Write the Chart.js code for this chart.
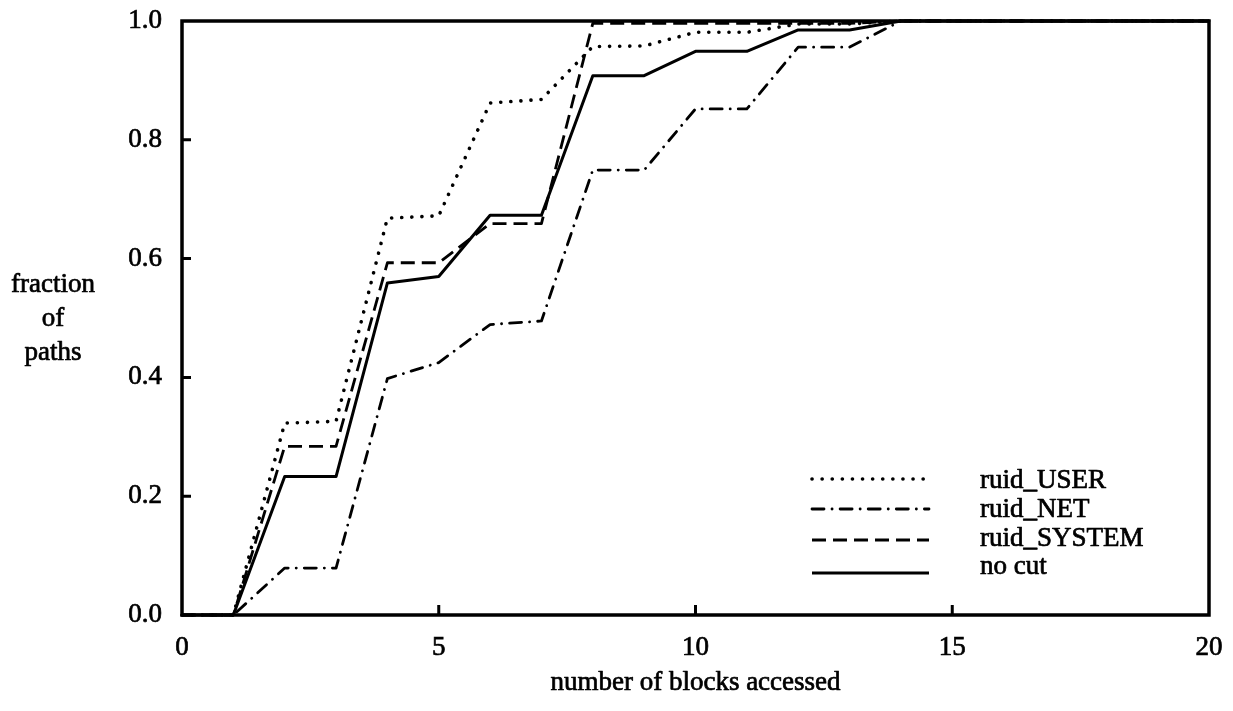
<!DOCTYPE html>
<html>
<head>
<meta charset="utf-8">
<script src="https://cdn.jsdelivr.net/npm/chart.js@4/dist/chart.umd.min.js"></script>
<style>
  html, body { margin: 0; padding: 0; background: #fff; }
  #wrap { width: 1233px; height: 711px; position: relative; }
</style>
</head>
<body>
<div id="wrap"><canvas id="c" width="1233" height="711"></canvas></div>
<script>
// number of blocks accessed (x positions)
const blocks = [0, 1, 2, 3, 4, 5, 6, 7, 8, 9, 10, 11, 12, 13, 14, 15, 16, 17, 18, 19, 20];

// cumulative fraction of paths for each cut
const ruidUser   = [0, 0, 0.323, 0.326, 0.668, 0.672, 0.862, 0.868, 0.957, 0.958, 0.981, 0.981, 0.995, 0.995, 1, 1, 1, 1, 1, 1, 1];
const ruidNet    = [0, 0, 0.079, 0.079, 0.398, 0.425, 0.489, 0.495, 0.749, 0.749, 0.852, 0.852, 0.956, 0.956, 1, 1, 1, 1, 1, 1, 1];
const ruidSystem = [0, 0, 0.284, 0.284, 0.593, 0.593, 0.659, 0.659, 0.996, 0.996, 0.996, 0.996, 0.996, 0.996, 1, 1, 1, 1, 1, 1, 1];
const noCut      = [0, 0, 0.233, 0.233, 0.559, 0.570, 0.673, 0.673, 0.908, 0.908, 0.949, 0.949, 0.985, 0.985, 1, 1, 1, 1, 1, 1, 1];

const seriesLabels = ['ruid_USER', 'ruid_NET', 'ruid_SYSTEM', 'no cut'];

// axis ticks and titles
const xTicks = [0, 5, 10, 15, 20];
const yTicks = [0, 0.2, 0.4, 0.6, 0.8, 1.0];
const yTitleLines = ['fraction', 'of', 'paths'];
const xTitle = 'number of blocks accessed';

const FONT = '"Liberation Serif", "Times New Roman", Times, serif';
const INK = '#000';
const TEXT_STROKE = 0.7;

const styles = [
  { borderDash: [0.1, 10], borderCapStyle: 'round', borderWidth: 3.6 },
  { borderDash: [12, 8, 0.1, 8], borderCapStyle: 'round', borderWidth: 2.8 },
  { borderDash: [14, 7], borderCapStyle: 'butt', borderWidth: 2.8 },
  { borderDash: [], borderCapStyle: 'butt', borderWidth: 3 }
];

const seriesValues = [ruidUser, ruidNet, ruidSystem, noCut];

const datasets = seriesValues.map((vals, i) => ({
  label: seriesLabels[i],
  data: blocks.map((b, k) => ({ x: b, y: vals[k] })),
  borderColor: INK,
  backgroundColor: INK,
  borderWidth: styles[i].borderWidth,
  borderDash: styles[i].borderDash,
  borderCapStyle: styles[i].borderCapStyle,
  borderJoinStyle: 'round',
  pointRadius: 0,
  tension: 0,
  fill: false
}));

function inkText(ctx, text, x, y) {
  ctx.fillText(text, x, y);
  ctx.strokeText(text, x, y);
}

// frame, inward ticks, axis titles and in-plot legend
const decorations = {
  id: 'decorations',
  afterDatasetsDraw(chart) {
    const { ctx, chartArea: a, scales: { x, y } } = chart;
    ctx.save();
    ctx.strokeStyle = INK;
    ctx.lineWidth = 3.5;
    ctx.setLineDash([]);
    ctx.lineCap = 'square';
    ctx.strokeRect(a.left, a.top, a.right - a.left, a.bottom - a.top);

    ctx.lineWidth = 3;
    ctx.lineCap = 'butt';
    ctx.beginPath();
    yTicks.slice(1, -1).forEach(v => {
      const py = y.getPixelForValue(v);
      ctx.moveTo(a.left, py);
      ctx.lineTo(a.left + 9, py);
    });
    xTicks.slice(1, -1).forEach(v => {
      const px = x.getPixelForValue(v);
      ctx.moveTo(px, a.bottom);
      ctx.lineTo(px, a.bottom - 10);
    });
    ctx.stroke();

    ctx.fillStyle = INK;
    ctx.lineWidth = TEXT_STROKE;
    ctx.lineJoin = 'round';
    ctx.font = '27px ' + FONT;
    ctx.textBaseline = 'alphabetic';

    // y-axis title, written horizontally on three lines
    ctx.textAlign = 'center';
    const midY = (a.top + a.bottom) / 2;
    const lh = 34;
    yTitleLines.forEach((t, i) => {
      inkText(ctx, t, 53, midY + 8 + (i - 1) * lh);
    });

    // x-axis title
    inkText(ctx, xTitle, (a.left + a.right) / 2, 690);

    // legend
    const lineX0 = 812, lineX1 = 929, textX = 980;
    const lineYs = [479, 509, 540, 573];
    const textYs = [488, 517, 546, 574];
    chart.data.datasets.forEach((ds, i) => {
      ctx.save();
      ctx.lineWidth = ds.borderWidth;
      ctx.setLineDash(ds.borderDash);
      ctx.lineCap = ds.borderCapStyle;
      ctx.beginPath();
      ctx.moveTo(lineX0, lineYs[i]);
      ctx.lineTo(lineX1, lineYs[i]);
      ctx.stroke();
      ctx.restore();
      ctx.textAlign = 'left';
      inkText(ctx, ds.label, textX, textYs[i]);
    });
    ctx.restore();
  }
};

new Chart(document.getElementById('c'), {
  type: 'line',
  data: { datasets },
  options: {
    responsive: false,
    animation: false,
    clip: false,
    layout: { padding: { left: 0, right: 24, top: 21, bottom: 0 } },
    plugins: { legend: { display: false }, tooltip: { enabled: false } },
    scales: {
      x: {
        type: 'linear',
        min: 0, max: 20,
        afterBuildTicks(scale) { scale.ticks = xTicks.map(v => ({ value: v })); },
        afterFit(scale) {
          scale.height = 96;
          scale.paddingLeft = 0; scale.paddingRight = 0;
        },
        grid: { display: false, drawTicks: false },
        border: { display: false },
        ticks: {
          color: INK,
          padding: 17,
          maxRotation: 0,
          textStrokeColor: INK,
          textStrokeWidth: TEXT_STROKE,
          font: { family: FONT, size: 27 },
          callback: v => String(v)
        }
      },
      y: {
        type: 'linear',
        min: 0, max: 1,
        afterBuildTicks(scale) { scale.ticks = yTicks.map(v => ({ value: v })); },
        afterFit(scale) {
          scale.width = 182;
          scale.paddingTop = 0; scale.paddingBottom = 0;
        },
        grid: { display: false, drawTicks: false },
        border: { display: false },
        ticks: {
          color: INK,
          padding: 20,
          textStrokeColor: INK,
          textStrokeWidth: TEXT_STROKE,
          font: { family: FONT, size: 27 },
          callback: v => Number(v).toFixed(1)
        }
      }
    }
  },
  plugins: [decorations]
});
</script>
</body>
</html>
